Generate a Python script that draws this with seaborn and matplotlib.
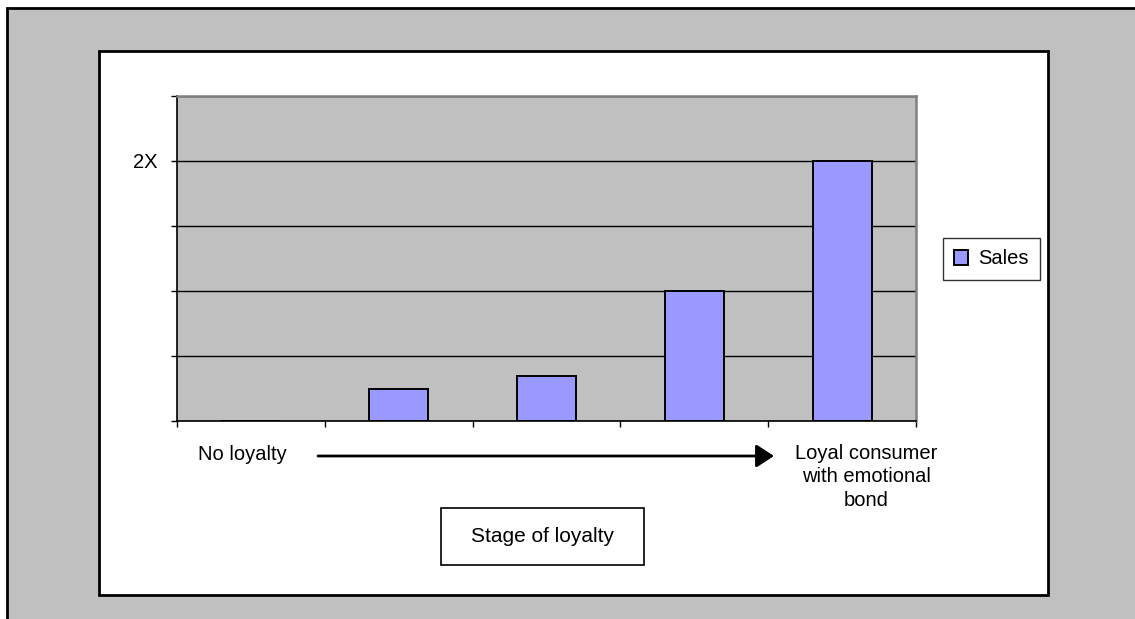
import matplotlib
matplotlib.use("Agg")
import matplotlib.pyplot as plt
from matplotlib.patches import Rectangle
import seaborn as sns
import pandas as pd

# Chart data
stages = ["Stage 1", "Stage 2", "Stage 3", "Stage 4", "Stage 5"]
sales = [0.0, 0.25, 0.35, 1.0, 2.0]
y_ticks = [0.0, 0.5, 1.0, 1.5, 2.0, 2.5]
y_tick_labels = ["", "", "", "", "2X", ""]
series_name = "Sales"
left_caption = "No loyalty"
right_caption = "Loyal consumer\nwith emotional\nbond"
axis_title = "Stage of loyalty"

sns.set_style("white", {"xtick.bottom": True, "ytick.left": True,
                        "text.color": "black", "axes.labelcolor": "black",
                        "xtick.color": "black", "ytick.color": "black"})
plt.rcParams["font.family"] = ["Liberation Sans", "DejaVu Sans"]

W, H = 1135, 619
fig = plt.figure(figsize=(W / 100, H / 100), dpi=100)
fig.patch.set_facecolor("white")


def fx(x):
    return x / W


def fy(y):
    return 1 - y / H


# Grey outer background with a black top/left border
fig.add_artist(Rectangle((fx(7), -0.1), 1.2, fy(8) + 0.1, transform=fig.transFigure,
                         facecolor="#c0c0c0", edgecolor="black", linewidth=2, zorder=-3))
# White chart panel
fig.add_artist(Rectangle((fx(99), fy(595)), fx(1048) - fx(99), fy(51) - fy(595),
                         transform=fig.transFigure, facecolor="white",
                         edgecolor="black", linewidth=2, zorder=-2))

ax = fig.add_axes([fx(177), fy(421), fx(916) - fx(177), fy(96) - fy(421)])
ax.set_facecolor("#c0c0c0")

df = pd.DataFrame({"stage": stages, "sales": sales})
sns.barplot(data=df, x="stage", y="sales", color="#9999ff", saturation=1,
            edgecolor="black", linewidth=1.4, width=0.4, label=series_name, ax=ax)

ax.set_xlim(-0.5, len(stages) - 0.5)
ax.set_ylim(y_ticks[0], y_ticks[-1])
ax.set_yticks(y_ticks)
ax.set_yticklabels(y_tick_labels, fontsize=14.5, color="black")
ax.set_xticks([i - 0.5 for i in range(len(stages) + 1)])
ax.set_xticklabels([])
ax.set_xlabel("")
ax.set_ylabel("")
ax.tick_params(axis="both", direction="out", length=4.3, width=1, color="black",
               bottom=True, left=True)
ax.tick_params(axis="y", pad=10)
ax.yaxis.grid(True, color="black", linewidth=1)
ax.xaxis.grid(False)
ax.set_axisbelow(True)

for side in ("left", "bottom"):
    ax.spines[side].set_color("black")
    ax.spines[side].set_linewidth(1.2)
for side in ("top", "right"):
    ax.spines[side].set_visible(True)
    ax.spines[side].set_color("#808080")
    ax.spines[side].set_linewidth(1.8)

leg = ax.legend(loc="center", bbox_to_anchor=(fx(991.5), fy(259)),
                bbox_transform=fig.transFigure, fontsize=14.5, frameon=True,
                fancybox=False, handlelength=0.7, handleheight=0.7,
                handletextpad=0.5, borderpad=0.55, borderaxespad=0)
leg.get_frame().set_edgecolor("black")
leg.get_frame().set_linewidth(1)
for t in leg.get_texts():
    t.set_color("black")

# Captions below the axis
fig.text(fx(198), fy(460), left_caption, ha="left", va="baseline",
         fontsize=14.5, color="black")
fig.text(fx(866), fy(477), right_caption, ha="center", va="center",
         multialignment="center", fontsize=14.5, linespacing=1.27, color="black")
ax.annotate("", xy=(774, H - 456), xytext=(318, H - 456),
            xycoords="figure pixels", textcoords="figure pixels",
            arrowprops=dict(arrowstyle="-|>,head_length=0.4,head_width=0.26",
                            mutation_scale=27, color="black", lw=2,
                            shrinkA=0, shrinkB=0))

# Boxed axis title
fig.add_artist(Rectangle((fx(441), fy(565)), fx(644) - fx(441), fy(508) - fy(565),
                         transform=fig.transFigure, facecolor="white",
                         edgecolor="black", linewidth=1.2, zorder=2))
fig.text(fx(542.5), fy(536.5), axis_title, ha="center", va="center",
         fontsize=15, color="black", zorder=3)

fig.savefig("out.png", dpi=100)
